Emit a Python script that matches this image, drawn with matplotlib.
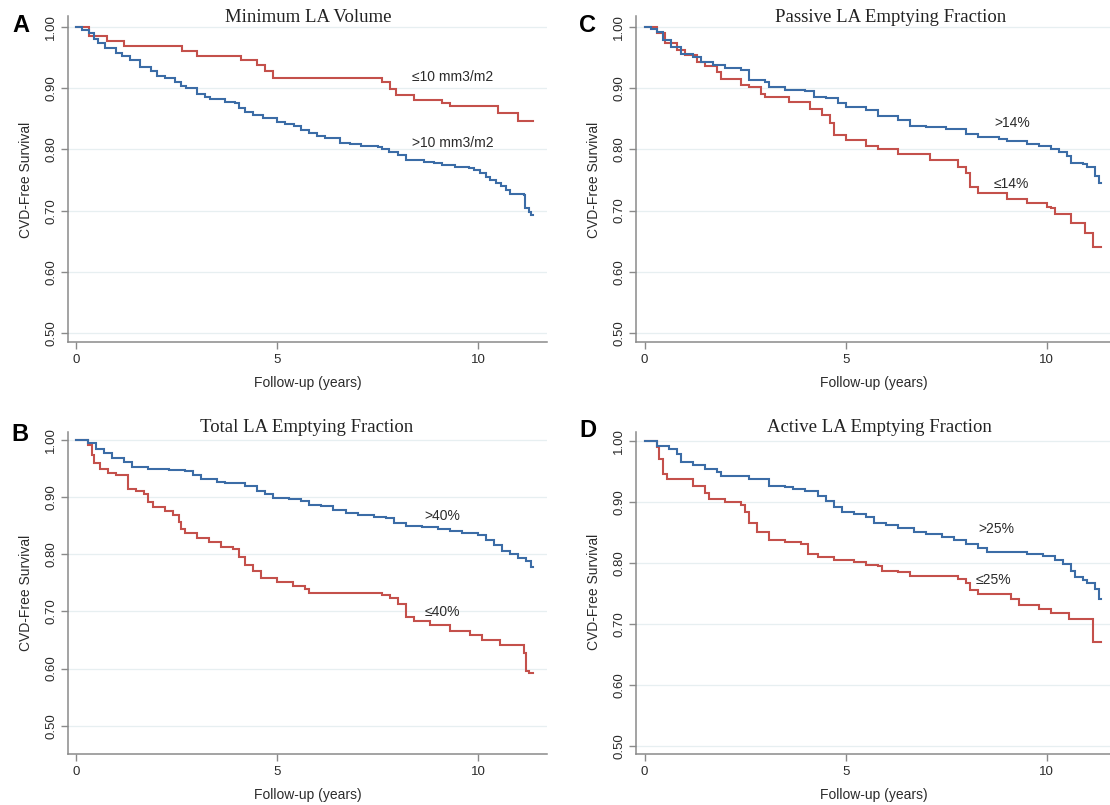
import matplotlib
matplotlib.use("Agg")
import matplotlib.pyplot as plt
import numpy as np

# ---------------- data ----------------
a_low_t = [0, 0.33, 0.77, 1.2, 2.64, 3.0, 4.1, 4.5, 4.7, 4.9, 7.6, 7.8, 7.95, 8.4, 9.1, 9.3, 10.5, 10.98, 11.35]
a_low_s = [1.0, 0.985, 0.977, 0.969, 0.961, 0.952, 0.945, 0.937, 0.928, 0.917, 0.91, 0.898, 0.889, 0.88, 0.875, 0.87, 0.86, 0.846, 0.846]
a_high_t = [0, 0.15, 0.33, 0.45, 0.55, 0.72, 0.98, 1.15, 1.33, 1.6, 1.86, 2.0, 2.2, 2.46, 2.6, 2.73, 3.0, 3.2, 3.34, 3.7, 3.95,
            4.05, 4.2, 4.4, 4.64, 5.0, 5.2, 5.43, 5.6, 5.78, 6.0, 6.2, 6.56, 6.8, 7.08, 7.5, 7.6, 7.78, 8.0, 8.2, 8.65, 8.9,
            9.1, 9.43, 9.78, 9.9, 10.04, 10.2, 10.3, 10.45, 10.56, 10.7, 10.8, 11.13, 11.17, 11.26, 11.32, 11.35]
a_high_s = [1.0, 0.995, 0.989, 0.98, 0.973, 0.965, 0.957, 0.952, 0.946, 0.935, 0.927, 0.92, 0.916, 0.91, 0.904, 0.9, 0.891,
            0.886, 0.882, 0.878, 0.875, 0.868, 0.861, 0.856, 0.851, 0.845, 0.842, 0.838, 0.832, 0.826, 0.822, 0.818, 0.811,
            0.808, 0.805, 0.804, 0.8, 0.796, 0.79, 0.782, 0.78, 0.777, 0.774, 0.771, 0.769, 0.766, 0.761, 0.755, 0.75, 0.745,
            0.74, 0.733, 0.728, 0.726, 0.704, 0.698, 0.693, 0.693]

c_high_t = [0, 0.15, 0.3, 0.45, 0.65, 0.9, 1.2, 1.4, 1.7, 2.0, 2.4, 2.6, 3.0, 3.1, 3.5, 4.0, 4.2, 4.5, 4.8, 5.0, 5.5, 5.8,
            6.3, 6.6, 7.0, 7.5, 8.0, 8.3, 8.8, 9.0, 9.5, 9.8, 10.1, 10.3, 10.5, 10.6, 10.9, 11.0, 11.2, 11.3, 11.35]
c_high_s = [1.0, 0.997, 0.993, 0.979, 0.968, 0.957, 0.952, 0.944, 0.938, 0.933, 0.93, 0.914, 0.911, 0.902, 0.897, 0.896,
            0.886, 0.884, 0.876, 0.87, 0.864, 0.854, 0.849, 0.838, 0.837, 0.834, 0.826, 0.82, 0.817, 0.814, 0.809, 0.805,
            0.8, 0.796, 0.789, 0.778, 0.776, 0.772, 0.756, 0.745, 0.745]
c_low_t = [0, 0.3, 0.5, 0.8, 1.0, 1.3, 1.5, 1.8, 1.9, 2.4, 2.6, 2.9, 3.0, 3.6, 4.1, 4.4, 4.6, 4.7, 5.0, 5.5, 5.8, 6.3,
           7.1, 7.8, 8.0, 8.1, 8.3, 9.0, 9.5, 10.0, 10.1, 10.2, 10.6, 10.95, 11.15, 11.35]
c_low_s = [1.0, 0.99, 0.974, 0.963, 0.955, 0.944, 0.936, 0.927, 0.915, 0.905, 0.903, 0.891, 0.886, 0.877, 0.867, 0.856,
           0.844, 0.824, 0.815, 0.805, 0.8, 0.793, 0.782, 0.772, 0.761, 0.739, 0.728, 0.719, 0.712, 0.706, 0.704, 0.694,
           0.68, 0.663, 0.64, 0.64]

b_high_t = [0, 0.3, 0.5, 0.7, 0.9, 1.2, 1.4, 1.8, 2.3, 2.7, 2.9, 3.1, 3.5, 3.7, 4.2, 4.5, 4.7, 4.9, 5.3, 5.6, 5.8, 6.1,
            6.4, 6.7, 7.0, 7.4, 7.7, 7.9, 8.2, 8.6, 9.0, 9.3, 9.6, 10.0, 10.2, 10.4, 10.6, 10.8, 11.0, 11.2, 11.3, 11.35]
b_high_s = [1.0, 0.994, 0.985, 0.977, 0.968, 0.961, 0.953, 0.95, 0.947, 0.945, 0.939, 0.931, 0.927, 0.924, 0.919, 0.911,
            0.905, 0.899, 0.897, 0.894, 0.886, 0.884, 0.878, 0.872, 0.869, 0.866, 0.863, 0.854, 0.85, 0.847, 0.845, 0.84,
            0.837, 0.834, 0.825, 0.816, 0.805, 0.8, 0.794, 0.788, 0.778, 0.778]
b_low_t = [0, 0.3, 0.4, 0.45, 0.6, 0.8, 1.0, 1.3, 1.5, 1.7, 1.8, 1.9, 2.2, 2.4, 2.55, 2.6, 2.7, 3.0, 3.3, 3.6, 3.9, 4.05,
           4.2, 4.4, 4.6, 5.0, 5.4, 5.7, 5.8, 7.6, 7.8, 8.0, 8.2, 8.4, 8.8, 9.3, 9.8, 10.1, 10.55, 11.15, 11.2, 11.25, 11.35]
b_low_s = [1.0, 0.992, 0.974, 0.959, 0.95, 0.942, 0.938, 0.915, 0.91, 0.905, 0.892, 0.883, 0.875, 0.869, 0.857, 0.845,
           0.837, 0.828, 0.822, 0.813, 0.809, 0.796, 0.781, 0.77, 0.759, 0.752, 0.744, 0.74, 0.733, 0.728, 0.724, 0.713,
           0.69, 0.683, 0.676, 0.666, 0.659, 0.65, 0.641, 0.627, 0.595, 0.592, 0.592]

d_high_t = [0, 0.3, 0.6, 0.8, 0.9, 1.2, 1.5, 1.8, 1.9, 2.6, 3.1, 3.5, 3.7, 4.0, 4.3, 4.5, 4.7, 4.9, 5.2, 5.5, 5.7, 6.0,
            6.3, 6.7, 7.0, 7.4, 7.7, 8.0, 8.3, 8.5, 9.0, 9.5, 9.9, 10.2, 10.4, 10.6, 10.7, 10.9, 11.0, 11.2, 11.3, 11.35]
d_high_s = [1.0, 0.992, 0.986, 0.978, 0.966, 0.96, 0.954, 0.948, 0.942, 0.937, 0.926, 0.924, 0.921, 0.918, 0.91, 0.902,
            0.891, 0.884, 0.88, 0.875, 0.866, 0.862, 0.857, 0.851, 0.847, 0.842, 0.838, 0.831, 0.824, 0.818, 0.817, 0.815,
            0.811, 0.805, 0.798, 0.786, 0.776, 0.771, 0.766, 0.757, 0.741, 0.741]
d_low_t = [0, 0.3, 0.35, 0.45, 0.55, 1.2, 1.5, 1.6, 2.0, 2.4, 2.5, 2.6, 2.8, 3.1, 3.5, 3.9, 4.05, 4.3, 4.7, 5.2, 5.5, 5.8,
           5.9, 6.3, 6.6, 7.8, 8.0, 8.1, 8.3, 9.1, 9.3, 9.8, 10.1, 10.55, 11.15, 11.35]
d_low_s = [1.0, 0.989, 0.97, 0.945, 0.937, 0.926, 0.914, 0.905, 0.899, 0.894, 0.883, 0.866, 0.851, 0.838, 0.834, 0.831,
           0.815, 0.809, 0.805, 0.801, 0.796, 0.794, 0.787, 0.785, 0.779, 0.774, 0.766, 0.755, 0.748, 0.741, 0.731, 0.724,
           0.717, 0.708, 0.67, 0.67]

titles = ["Minimum LA Volume", "Passive LA Emptying Fraction", "Total LA Emptying Fraction", "Active LA Emptying Fraction"]
letters = ["A", "C", "B", "D"]
high_labels = [">10 mm3/m2", ">14%", ">40%", ">25%"]
low_labels = ["\u226410 mm3/m2", "\u226414%", "\u226440%", "\u226425%"]
x_ticks = [0, 5, 10]
y_ticks = [0.50, 0.60, 0.70, 0.80, 0.90, 1.00]

# ---------------- style ----------------
W, H = 1110, 805
BLUE = "#3b6ca6"
RED = "#c4504b"
AXC = "#8a8a8a"
TXT = "#2b2b2b"
SANS = ["Liberation Sans", "DejaVu Sans"]
SERIF = ["Liberation Serif", "DejaVu Serif"]

fig = plt.figure(figsize=(W / 100, H / 100), dpi=100)
fig.patch.set_facecolor("white")

# panel layout in pixels: left, right, top, bottom, xlim, ylim
panels = [
    dict(box=(67.7, 547, 16, 342), xlim=(-0.209, 11.71), ylim=(0.4858, 1.0175),
         hi=a_high_t, his=a_high_s, lo=a_low_t, los=a_low_s,
         title_xy=(308, 17), letter_xy=(21, 25), ylab_xy=(26, 180), xlab_xy=(308, 383),
         hi_xy=(412, 143), lo_xy=(412, 77)),
    dict(box=(635.7, 1110, 16, 342), xlim=(-0.221, 11.57), ylim=(0.4848, 1.0185),
         hi=c_high_t, his=c_high_s, lo=c_low_t, los=c_low_s,
         title_xy=(891, 17), letter_xy=(588, 25), ylab_xy=(594, 180), xlab_xy=(874, 383),
         hi_xy=(994, 123), lo_xy=(994, 184)),
    dict(box=(67.7, 547, 432, 754), xlim=(-0.209, 11.71), ylim=(0.4504, 1.014),
         hi=b_high_t, his=b_high_s, lo=b_low_t, los=b_low_s,
         title_xy=(307, 427), letter_xy=(20, 434), ylab_xy=(26, 593), xlab_xy=(308, 795),
         hi_xy=(424, 516), lo_xy=(425, 612)),
    dict(box=(635.7, 1110, 432, 754), xlim=(-0.221, 11.57), ylim=(0.4864, 1.0144),
         hi=d_high_t, his=d_high_s, lo=d_low_t, los=d_low_s,
         title_xy=(879, 427), letter_xy=(588, 430), ylab_xy=(594, 592), xlab_xy=(874, 795),
         hi_xy=(978, 529), lo_xy=(976, 580)),
]


def fx(px):
    return px / W


def fy(py):
    return 1 - py / H


for i, p in enumerate(panels):
    l, r, t, b = p["box"]
    ax = fig.add_axes([fx(l), fy(b), (r - l) / W, (b - t) / H])
    ax.set_xlim(*p["xlim"])
    ax.set_ylim(*p["ylim"])
    for s in ["top", "right"]:
        ax.spines[s].set_visible(False)
    for s in ["left", "bottom"]:
        ax.spines[s].set_color(AXC)
        ax.spines[s].set_linewidth(1.1)
    ax.set_xticks(x_ticks)
    ax.set_xticklabels([str(v) for v in x_ticks])
    ax.set_yticks(y_ticks)
    ax.set_yticklabels(["%.2f" % v for v in y_ticks], rotation=90, va="center")
    ax.tick_params(axis="both", direction="out", length=5, width=1.0, color=AXC,
                   labelsize=9.5, labelcolor=TXT)
    ax.tick_params(axis="x", pad=3.5)
    ax.tick_params(axis="y", pad=2.5)
    for lab in ax.get_xticklabels() + ax.get_yticklabels():
        lab.set_family(SANS)
    ax.grid(axis="y", color="#e7eff1", linewidth=0.9)
    ax.set_axisbelow(True)
    ax.plot(p["lo"], p["los"], drawstyle="steps-post", color=RED, lw=1.5, solid_joinstyle="miter")
    ax.plot(p["hi"], p["his"], drawstyle="steps-post", color=BLUE, lw=1.5, solid_joinstyle="miter")

    fig.text(fx(p["title_xy"][0]), fy(p["title_xy"][1]), titles[i], family=SERIF, fontsize=13.5,
             ha="center", va="center", color="#222222")
    fig.text(fx(p["letter_xy"][0]), fy(p["letter_xy"][1]), letters[i], family=SANS, fontsize=17,
             fontweight="bold", ha="center", va="center", color="black")
    fig.text(fx(p["ylab_xy"][0]), fy(p["ylab_xy"][1]), "CVD-Free Survival", family=SANS, fontsize=10,
             rotation=90, ha="center", va="center", color=TXT)
    fig.text(fx(p["xlab_xy"][0]), fy(p["xlab_xy"][1]), "Follow-up (years)", family=SANS, fontsize=10,
             ha="center", va="center", color=TXT)
    fig.text(fx(p["hi_xy"][0]), fy(p["hi_xy"][1]), high_labels[i], family=SANS, fontsize=10,
             ha="left", va="center", color=TXT)
    fig.text(fx(p["lo_xy"][0]), fy(p["lo_xy"][1]), low_labels[i], family=SANS, fontsize=10,
             ha="left", va="center", color=TXT)

fig.savefig("out.png", dpi=100, facecolor="white")
